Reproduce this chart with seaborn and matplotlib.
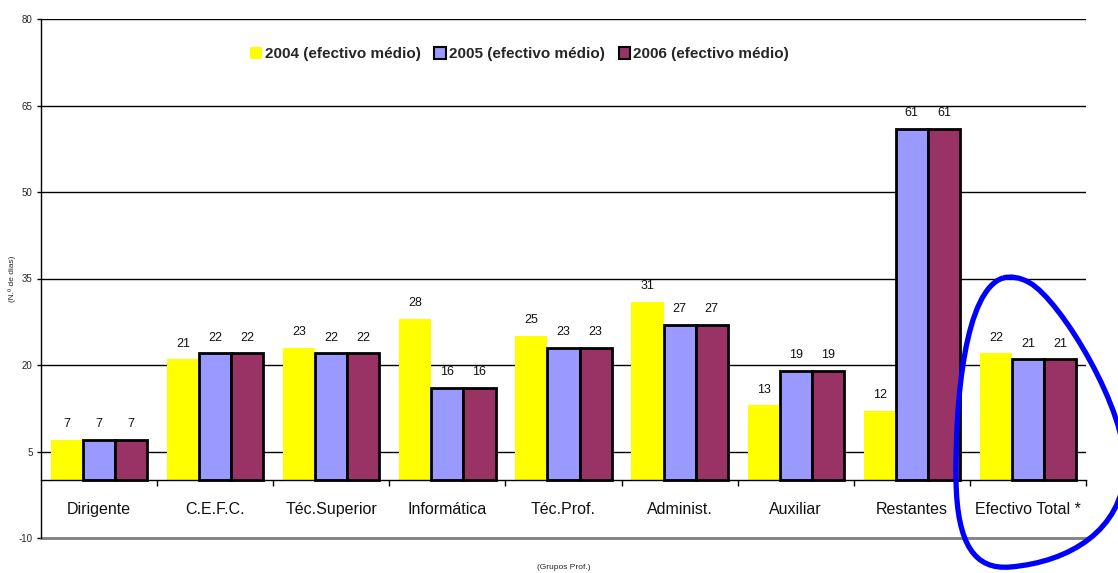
import numpy as np
import pandas as pd
import matplotlib
matplotlib.use('Agg')
import matplotlib.pyplot as plt
import seaborn as sns
from matplotlib.path import Path
from matplotlib.patches import PathPatch, Patch

categories = ['Dirigente', 'C.E.F.C.', 'Téc.Superior', 'Informática', 'Téc.Prof.',
              'Administ.', 'Auxiliar', 'Restantes', 'Efectivo Total *']
v2004 = [7, 21, 23, 28, 25, 31, 13, 12, 22]
v2005 = [7, 22, 22, 16, 23, 27, 19, 61, 21]
v2006 = [7, 22, 22, 16, 23, 27, 19, 61, 21]
series_names = ['2004 (efectivo médio)', '2005 (efectivo médio)', '2006 (efectivo médio)']
colors = ['#FFFF00', '#9999FF', '#993366']
yticks = [-10, 5, 20, 35, 50, 65, 80]

df = pd.DataFrame({
    'grupo': categories * 3,
    'ano': sum([[s] * len(categories) for s in series_names], []),
    'dias': v2004 + v2005 + v2006,
})

sns.set_style('white')
plt.rcParams['font.family'] = ['Liberation Sans', 'DejaVu Sans']

fig = plt.figure(figsize=(11.18, 5.73), dpi=100)
W, H = 1118, 573
ax = fig.add_axes([41 / W, 35 / H, (1086 - 41) / W, (538 - 19) / H])

sns.barplot(data=df, x='grupo', y='dias', hue='ano', order=categories,
            hue_order=series_names, palette=colors, width=0.83, saturation=1,
            legend=False, ax=ax, errorbar=None)

# edges: 2004 without outline, 2005/2006 with thick black outline
for i, cont in enumerate(ax.containers):
    for bar in cont:
        if i == 0:
            bar.set_edgecolor('none')
            bar.set_linewidth(0)
        else:
            bar.set_edgecolor('black')
            bar.set_linewidth(2)
    ax.bar_label(cont, fmt='%d', padding=7, fontsize=9, color='#111111')

ax.set_ylim(-10, 80)
ax.set_xlim(-0.5, len(categories) - 0.5)
ax.set_yticks(yticks)
ax.set_yticklabels([str(t) for t in yticks], fontsize=7)
ax.tick_params(axis='y', left=True, length=3, width=1, color='black', pad=3)

ax.yaxis.grid(True, color='black', linewidth=1)
ax.set_axisbelow(True)
ax.get_ygridlines()[0].set_visible(False)

# x axis at zero with boundary ticks
ax.spines['bottom'].set_position(('data', 0))
ax.spines['bottom'].set_color('black')
ax.spines['bottom'].set_linewidth(1)
ax.spines['left'].set_color('black')
ax.spines['left'].set_linewidth(1)
ax.spines['top'].set_visible(False)
ax.spines['right'].set_visible(False)
ax.set_xticks(np.arange(len(categories)) + 0.5)
ax.set_xticklabels([])
ax.tick_params(axis='x', bottom=True, direction='out', length=4, width=1, color='black')
ax.axhline(-10, color='#808080', linewidth=2, clip_on=False)

for i, cat in enumerate(categories):
    ax.text(i, -5, cat, ha='center', va='center', fontsize=11.5, color='#111111')

ax.set_xlabel('(Grupos Prof.)', fontsize=6, labelpad=0)
ax.xaxis.set_label_coords(0.5, -0.05)
ax.set_ylabel('(N.º de dias)', fontsize=6, labelpad=2)

handles = [Patch(facecolor=colors[0], edgecolor='none'),
           Patch(facecolor=colors[1], edgecolor='black', linewidth=1.5),
           Patch(facecolor=colors[2], edgecolor='black', linewidth=1.5)]
ax.legend(handles, series_names, loc='center', bbox_to_anchor=(0.458, 0.932),
          ncol=3, frameon=False, handlelength=0.75, handleheight=0.75,
          handletextpad=0.2, columnspacing=0.9,
          prop={'weight': 'bold', 'size': 11})

# hand-drawn blue loop around "Efectivo Total *"
pts = [(1003, 278),
       (965, 290), (955, 400), (956, 480),
       (957, 545), (975, 570), (1010, 567),
       (1070, 562), (1122, 530), (1125, 470),
       (1128, 410), (1060, 300), (1030, 283),
       (1020, 277), (1010, 276), (1003, 278)]
codes = [Path.MOVETO] + [Path.CURVE4] * (len(pts) - 1)
verts = [(x / W, 1 - y / H) for x, y in pts]
loop = PathPatch(Path(verts, codes), facecolor='none', edgecolor='#0000FF',
                 linewidth=3.8, transform=fig.transFigure, clip_on=False)
fig.add_artist(loop)

fig.savefig('out.png', dpi=100)
